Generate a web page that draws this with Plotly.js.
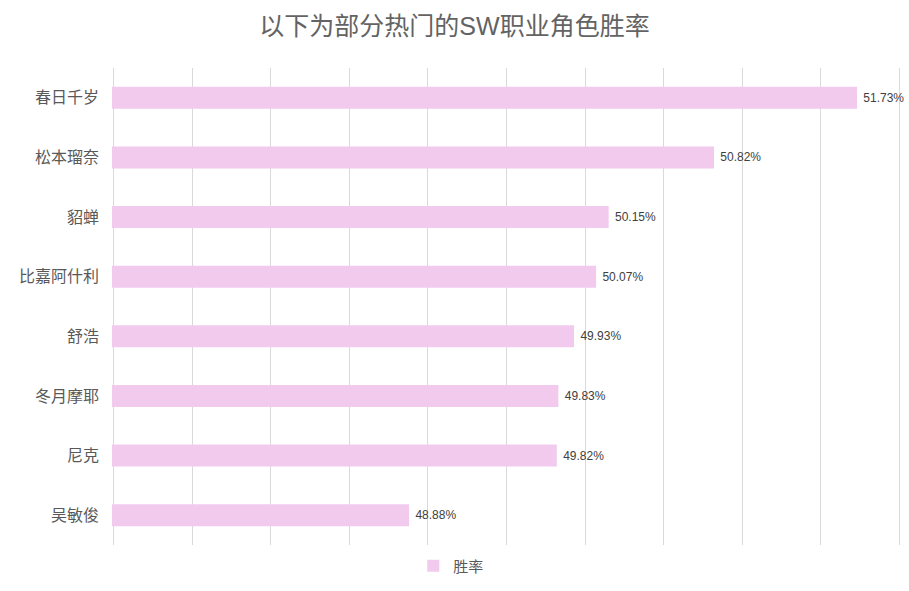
<!DOCTYPE html>
<html>
<head>
<meta charset="utf-8">
<script src="https://cdn.plot.ly/plotly-3.0.1.min.js"></script>
<style>
  html, body { margin: 0; padding: 0; background: #fff; }
  #chart { width: 909px; height: 591px; }
</style>
</head>
<body>
<div id="chart"></div>
<script>
// win rate of some popular SW characters, top to bottom as drawn
const names = ["春日千岁", "松本瑠奈", "貂蝉", "比嘉阿什利", "舒浩", "冬月摩耶", "尼克", "吴敏俊"];
const winRate = [51.73, 50.82, 50.15, 50.07, 49.93, 49.83, 49.82, 48.88];
const seriesName = "胜率";

const FONT = '"Liberation Sans", Arial, "Noto Sans CJK SC", sans-serif';
const GREY = '#595959';

Plotly.newPlot('chart', [{
    type: 'bar',
    orientation: 'h',
    x: winRate,
    y: names,
    name: seriesName,
    marker: {color: '#f1caee'},
    // nbsp gives a bit more room between bar end and label
    text: winRate.map(v => '\u00a0' + v.toFixed(2) + '%'),
    textposition: 'outside',
    cliponaxis: false,
    textfont: {family: FONT, size: 12, color: '#404040'},
    hoverinfo: 'none'
  }], {
    width: 909,
    height: 591,
    font: {family: FONT, color: GREY},
    paper_bgcolor: '#fff',
    plot_bgcolor: '#fff',
    title: {
      text: '以下为部分热门的SW职业角色胜率',
      font: {family: FONT, size: 25, color: '#636363'},
      x: 0.5, xref: 'container', xanchor: 'center',
      y: 0.955, yref: 'container', yanchor: 'middle'
    },
    margin: {l: 112, r: 8, t: 68, b: 43},
    bargap: 0.63,
    showlegend: true,
    legend: {
      orientation: 'h',
      x: 0.43, xanchor: 'center',
      y: -0.044, yanchor: 'middle',
      font: {family: FONT, size: 15, color: GREY},
      itemwidth: 30
    },
    xaxis: {
      // padded a little so the edge gridlines at 47 and 52 are kept
      range: [46.99, 52.01],
      tick0: 47,
      dtick: 0.5,
      showticklabels: false,
      showgrid: true,
      gridcolor: '#d9d9d9',
      zeroline: false,
      showline: false,
      fixedrange: true
    },
    yaxis: {
      autorange: 'reversed',
      showgrid: false,
      showline: false,
      ticks: '',
      ticklabelstandoff: 12,
      tickfont: {family: FONT, size: 16, color: GREY},
      fixedrange: true
    }
  }, {
    staticPlot: true
});
</script>
</body>
</html>
